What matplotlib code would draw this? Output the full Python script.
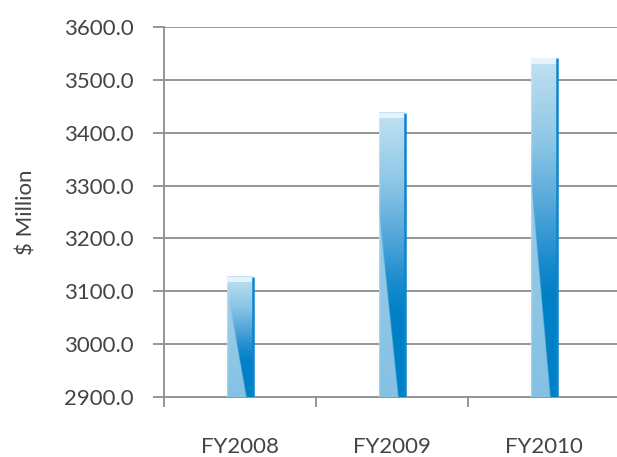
import numpy as np
import matplotlib.pyplot as plt
from matplotlib.colors import to_rgb

plt.rcParams['font.family'] = ['Lato', 'DejaVu Sans']

# Data
years = ['FY2008', 'FY2009', 'FY2010']
revenue = [3128, 3438, 3541]
y_ticks = [2900, 3000, 3100, 3200, 3300, 3400, 3500, 3600]

grid_col = '#959595'
text_col = '#444444'


def bar_image(wedge_top, n=300, m=60):
    # light left part, darker right part split by a slanted edge
    v = np.linspace(1, 0, n)[:, None]   # 1 at top
    u = np.linspace(0, 1, m)[None, :]
    stops = [0.0, 0.3, 0.4, 0.55, 0.75, 1.0]
    cols = np.array([to_rgb(c) for c in
                     ['#0080c6', '#0080c6', '#1a8bcd', '#4ea4d8', '#8cc6e6', '#c2e1f2']])
    dark = np.stack([np.interp(v[:, 0], stops, cols[:, k]) for k in range(3)], axis=-1)
    dark = np.repeat(dark[:, None, :], m, axis=1)
    light_bot, light_top = np.array(to_rgb('#84c1e3')), np.array(to_rgb('#a6d2eb'))
    light = light_bot + (light_top - light_bot) * v[..., None]
    light = np.broadcast_to(light, (n, m, 3))
    bound = 0.75 * np.clip(1 - v / wedge_top, 0, 1)
    w = np.clip((u - bound) / 0.04 + 0.5, 0, 1)[..., None]
    img = light * (1 - w) + dark * w
    # soft highlight on the left edge
    hl = np.clip(1 - u / 0.06, 0, 1)[..., None] * 0.3
    img = img * (1 - hl) + hl
    return img


fig, ax = plt.subplots(figsize=(6.17, 4.57), dpi=100)
fig.subplots_adjust(left=0.266, right=1.0, bottom=0.131, top=0.941)

x = np.arange(len(years))
width = 0.17
wedge_tops = [0.9, 0.65, 0.64]
for xi, val, wt in zip(x, revenue, wedge_tops):
    x0, x1 = xi - width / 2, xi + width / 2
    ax.imshow(bar_image(wt), extent=[x0, x1, 2900, val], aspect='auto', zorder=3,
              interpolation='bilinear')
    ax.fill_between([x0, x1], val - 11, val, color='#e6f3fa', zorder=4, lw=0)
    ax.plot([x1, x1], [2900, val], color='#0a86cf', lw=1.8, zorder=5,
            solid_capstyle='butt')

ax.set_xlim(-0.5, 2.48)
ax.set_ylim(2900, 3600)
ax.set_yticks(y_ticks)
ax.set_yticklabels([f'{t:.1f}' for t in y_ticks], fontsize=16, color=text_col)
ax.yaxis.grid(True, color=grid_col, lw=1.4, zorder=0)
ax.set_axisbelow(True)

ax.set_xticks([-0.5, 0.5, 1.5])
ax.set_xticklabels([])
ax.set_xticks(x, minor=True)
ax.set_xticklabels(years, minor=True, fontsize=16, color=text_col)
ax.tick_params(axis='x', which='minor', length=0, pad=29)
ax.tick_params(axis='x', which='major', length=7.5, width=1.4, color=grid_col)
ax.tick_params(axis='y', length=8, width=1.4, color=grid_col, pad=14)

for s in ['top', 'right']:
    ax.spines[s].set_visible(False)
for s in ['left', 'bottom']:
    ax.spines[s].set_color(grid_col)
    ax.spines[s].set_linewidth(1.4)

ax.set_ylabel('$ Million', fontsize=16, color=text_col, labelpad=20)

fig.savefig('out.png', dpi=100)
